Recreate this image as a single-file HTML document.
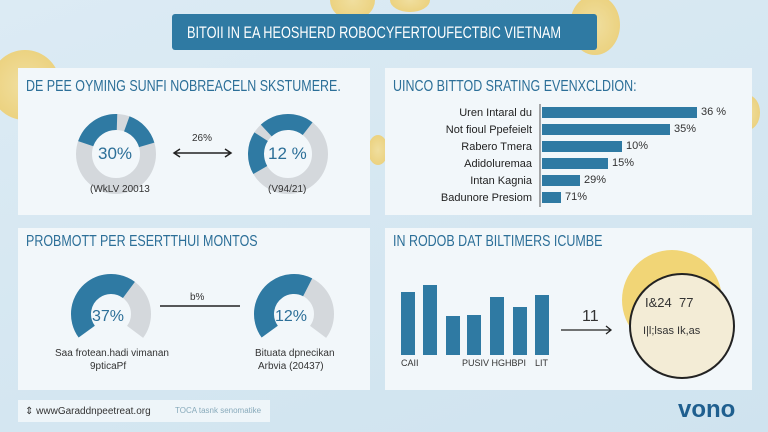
<!DOCTYPE html>
<html><head><style>
body{margin:0;width:768px;height:432px;overflow:hidden;background:linear-gradient(160deg,#dcebf4,#cfe3ef);font-family:"Liberation Sans",sans-serif;position:relative}
.p{position:absolute;background:#f2f7fa;}
.t{position:absolute;color:#2c6f98;font-size:16px;white-space:nowrap;transform:scaleX(.78);transform-origin:left}
.s{position:absolute;font-size:11px;color:#333;white-space:nowrap}
.coin{position:absolute;border-radius:50%;background:radial-gradient(#f6dc8a,#eec654);opacity:.8}
</style></head><body>
<div class="coin" style="left:-10px;top:50px;width:70px;height:70px"></div>
<div class="coin" style="left:330px;top:-20px;width:45px;height:40px"></div>
<div class="coin" style="left:390px;top:-12px;width:40px;height:24px"></div>
<div class="coin" style="left:570px;top:-5px;width:50px;height:60px"></div>
<div class="coin" style="left:368px;top:135px;width:20px;height:30px"></div>
<div class="coin" style="left:735px;top:95px;width:25px;height:35px"></div>
<div class="p" style="left:172px;top:14px;width:425px;height:36px;background:#2f7aa3;border-radius:3px"></div>
<div class="t" style="left:187px;top:23px;color:#fff;font-size:17px;transform:scaleX(.75)">BITOII IN EA HEOSHERD ROBOCYFERTOUFECTBIC VIETNAM</div>
<div class="p" style="left:18px;top:68px;width:352px;height:147px"></div>
<div class="p" style="left:385px;top:68px;width:367px;height:147px"></div>
<div class="p" style="left:18px;top:228px;width:352px;height:162px"></div>
<div class="p" style="left:385px;top:228px;width:367px;height:162px"></div>
<div class="t" style="left:26px;top:78px">DE PEE OYMING SUNFI NOBREACELN SKSTUMERE.</div>
<div class="t" style="left:393px;top:78px">UINCO BITTOD SRATING EVENXCLDION:</div>
<div class="t" style="left:26px;top:233px">PROBMOTT PER ESERTTHUI MONTOS</div>
<div class="t" style="left:393px;top:233px">IN RODOB DAT BILTIMERS ICUMBE</div>
<svg style="position:absolute;left:0;top:0" width="768" height="432">
<g fill="none" stroke-width="16">
<circle cx="116" cy="154" r="32" stroke="#d4d8dc"/>
<circle cx="116" cy="154" r="32" stroke="#2f7aa3" stroke-dasharray="40 10 30 120" transform="rotate(200 116 154)"/>
<circle cx="288" cy="154" r="32" stroke="#d4d8dc"/>
<circle cx="288" cy="154" r="32" stroke="#2f7aa3" stroke-dasharray="35 8 45 120" transform="rotate(150 288 154)"/>
</g>
<g fill="none" stroke-width="20">
<circle cx="111" cy="314" r="30" stroke="#d4d8dc" stroke-dasharray="132 60" transform="rotate(144 111 314)"/>
<circle cx="111" cy="314" r="30" stroke="#2f7aa3" stroke-dasharray="85 200" transform="rotate(144 111 314)"/>
<circle cx="294" cy="314" r="30" stroke="#d4d8dc" stroke-dasharray="132 60" transform="rotate(144 294 314)"/>
<circle cx="294" cy="314" r="30" stroke="#2f7aa3" stroke-dasharray="80 200" transform="rotate(144 294 314)"/>
</g>
<path d="M175 153 H230 M180 149 L174 153 180 157 M225 149 L231 153 225 157" stroke="#222" stroke-width="1.5" fill="none"/>
<path d="M160 306 H240" stroke="#222" stroke-width="1.5"/>
<path d="M561 330 H610 M606 326 L611 330 606 334" stroke="#222" stroke-width="1.3" fill="none"/>
<line x1="540" y1="104" x2="540" y2="207" stroke="#555"/>
<g fill="#2f7aa3">
<rect x="542" y="107" width="155" height="11"/><rect x="542" y="124" width="128" height="11"/>
<rect x="542" y="141" width="80" height="11"/><rect x="542" y="158" width="66" height="11"/>
<rect x="542" y="175" width="38" height="11"/><rect x="542" y="192" width="19" height="11"/>
<rect x="401" y="292" width="14" height="63"/><rect x="423" y="285" width="14" height="70"/>
<rect x="446" y="316" width="14" height="39"/><rect x="467" y="315" width="14" height="40"/>
<rect x="490" y="297" width="14" height="58"/><rect x="513" y="307" width="14" height="48"/>
<rect x="535" y="295" width="14" height="60"/>
</g>
<circle cx="672" cy="300" r="50" fill="#f1cf5e" opacity=".85"/>
<circle cx="682" cy="326" r="52" fill="#f3ecd6" stroke="#222" stroke-width="2"/>
</svg>
<div class="s" style="left:98px;top:144px;font-size:17px;color:#2c6f98">30%</div>
<div class="s" style="left:268px;top:144px;font-size:17px;color:#2c6f98">12 %</div>
<div class="s" style="left:192px;top:133px;font-size:10px">26%</div>
<div class="s" style="left:90px;top:184px;font-size:10px">(WkLV 20013</div>
<div class="s" style="left:268px;top:184px;font-size:10px">(V94/21)</div>
<div class="s" style="left:92px;top:308px;font-size:16px;color:#2c6f98">37%</div>
<div class="s" style="left:275px;top:308px;font-size:16px;color:#2c6f98">12%</div>
<div class="s" style="left:190px;top:292px;font-size:10px">b%</div>
<div class="s" style="left:55px;top:348px;font-size:10px">Saa frotean.hadi vimanan</div>
<div class="s" style="left:90px;top:361px;font-size:10px">9pticaPf</div>
<div class="s" style="left:255px;top:348px;font-size:10px">Bituata dpnecikan</div>
<div class="s" style="left:258px;top:361px;font-size:10px">Arbvia (20437)</div>
<div style="position:absolute;left:430px;top:105px;width:102px;text-align:right;font-size:11px;line-height:17px;color:#222">Uren Intaral du<br>Not fioul Ppefeielt<br>Rabero Tmera<br>Adidoluremaa<br>Intan Kagnia<br>Badunore Presiom</div>
<div class="s" style="left:701px;top:106px">36 %</div><div class="s" style="left:674px;top:123px">35%</div>
<div class="s" style="left:626px;top:140px">10%</div><div class="s" style="left:612px;top:157px">15%</div>
<div class="s" style="left:584px;top:174px">29%</div><div class="s" style="left:565px;top:191px">71%</div>
<div class="s" style="left:401px;top:358px;font-size:9px">CAII</div>
<div class="s" style="left:462px;top:358px;font-size:9px">PUSIV HGHBPI</div>
<div class="s" style="left:535px;top:358px;font-size:9px">LIT</div>
<div class="s" style="left:582px;top:308px;font-size:16px">11</div>
<div class="s" style="left:645px;top:295px;font-size:13px">I&amp;24 &nbsp;77</div>
<div class="s" style="left:643px;top:325px;font-size:11px">I|l;lsas Ik,as</div>
<div class="p" style="left:18px;top:400px;width:252px;height:22px;background:#eef5f9"></div>
<div class="s" style="left:25px;top:406px;font-size:10px">⇕ wwwGaraddnpeetreat.org</div>
<div class="s" style="left:175px;top:406px;font-size:8px;color:#8ab">TOCA tasnk senomatike</div>
<div class="s" style="left:678px;top:396px;font-size:24px;font-weight:bold;color:#1f5f8f">vono</div>
</body></html>
